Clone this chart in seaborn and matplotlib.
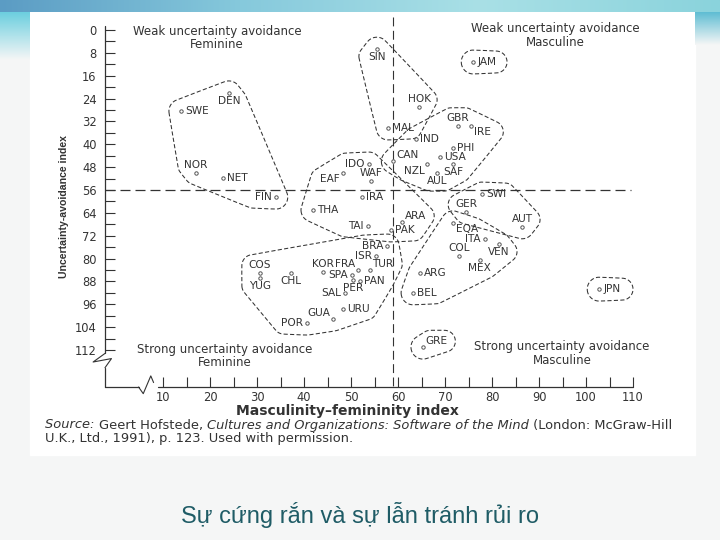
import numpy as np
import pandas as pd
import seaborn as sns
import matplotlib.pyplot as plt
from matplotlib.patches import Rectangle
from matplotlib.colors import LinearSegmentedColormap

# values
countries = ['SIN', 'JAM', 'DEN', 'SWE', 'HOK', 'GBR', 'IRE', 'MAL', 'IND', 'PHI',
             'USA', 'CAN', 'IDO', 'NZL', 'SAF', 'NOR', 'AUL', 'EAF', 'WAF', 'NET',
             'FIN', 'IRA', 'SWI', 'THA', 'GER', 'AUT', 'ARA', 'TAI', 'PAK', 'EQA',
             'ITA', 'COL', 'VEN', 'MEX', 'BRA', 'ISR', 'TUR', 'FRA', 'KOR', 'SPA',
             'PAN', 'PER', 'SAL', 'CHL', 'COS', 'YUG', 'ARG', 'BEL', 'JPN', 'URU',
             'GUA', 'POR', 'GRE']
masculinity = [55.5, 76, 24, 13.8, 64.5, 72.8, 75.5, 57.9, 63.8, 71.7,
               69, 59, 53.8, 66.2, 71.7, 17, 68.3, 48.3, 54.3, 22.8,
               34, 52.3, 77.9, 41.9, 74.5, 86.4, 60.8, 53.6, 58.5, 71.7,
               78.5, 73, 81.5, 77.4, 57.7, 55.3, 54, 51.5, 44, 50.2,
               51.9, 50.5, 48.7, 37.2, 30.6, 30.6, 64.7, 63.2, 102.8, 48.3,
               46.2, 40.6, 65.3]
uncertainty = [6.7, 11.2, 22, 28.4, 27, 33.6, 33.6, 34.3, 38, 41.3,
               44.6, 46, 46.9, 47, 46.9, 50, 50, 50, 52.9, 51.8,
               58.5, 58.4, 57.4, 63, 63.7, 68.9, 67.2, 68.6, 70, 67.5,
               73.2, 79, 75, 80.5, 75.6, 79.1, 84, 84, 84.7, 85.7,
               87.9, 87.5, 92, 85, 85, 86.9, 85, 92, 90.7, 97.7,
               101.2, 102.6, 111]

groups = [
    ['SWE', 'DEN', 'NOR', 'NET', 'FIN'],
    ['SIN', 'HOK', 'MAL'],
    ['JAM'],
    ['GBR', 'IRE', 'IND', 'PHI', 'USA', 'CAN', 'NZL', 'SAF', 'AUL'],
    ['IDO', 'WAF', 'EAF', 'IRA', 'THA', 'TAI', 'ARA', 'PAK'],
    ['SWI', 'GER', 'AUT'],
    ['EQA', 'ITA', 'COL', 'VEN', 'MEX', 'ARG', 'BEL'],
    ['BRA', 'ISR', 'TUR', 'FRA', 'KOR', 'SPA', 'PAN', 'PER', 'SAL', 'CHL',
     'COS', 'YUG', 'GUA', 'URU', 'POR'],
    ['JPN'],
    ['GRE'],
]

# where each country code sits relative to its dot
label_side = {
    'SIN': 'b', 'JAM': 'r', 'DEN': 'b', 'SWE': 'r', 'HOK': 'a', 'GBR': 'a',
    'IRE': 'br', 'MAL': 'r', 'IND': 'r', 'PHI': 'r', 'USA': 'r', 'CAN': 'ar',
    'IDO': 'l', 'NZL': 'bl', 'SAF': 'b', 'NOR': 'a', 'AUL': 'b', 'EAF': 'bl',
    'WAF': 'a', 'NET': 'r', 'FIN': 'l', 'IRA': 'r', 'SWI': 'r', 'THA': 'r',
    'GER': 'a', 'AUT': 'a', 'ARA': 'ar', 'TAI': 'l', 'PAK': 'r', 'EQA': 'br',
    'ITA': 'l', 'COL': 'a', 'VEN': 'b', 'MEX': 'b', 'BRA': 'l', 'ISR': 'l',
    'TUR': 'ar', 'FRA': 'al', 'KOR': 'a', 'SPA': 'l', 'PAN': 'r', 'PER': 'b',
    'SAL': 'l', 'CHL': 'b', 'COS': 'a', 'YUG': 'b', 'ARG': 'r', 'BEL': 'r',
    'JPN': 'r', 'URU': 'r', 'GUA': 'al', 'POR': 'l', 'GRE': 'ar',
}
side_style = {
    'r': (3, 0, 'left', 'center'), 'l': (-3, 0, 'right', 'center'),
    'a': (0, 2, 'center', 'bottom'), 'b': (0, -2, 'center', 'top'),
    'ar': (2, 1, 'left', 'bottom'), 'al': (-2, 1, 'right', 'bottom'),
    'br': (2, -1, 'left', 'top'), 'bl': (-2, -1, 'right', 'top'),
}

df = pd.DataFrame({'country': countries, 'mas': masculinity, 'uai': uncertainty})

sns.set_theme(style='white')
plt.rcParams['font.family'] = ['DejaVu Sans']
ink = '#333333'

fig = plt.figure(figsize=(7.2, 5.4), dpi=100, facecolor='#f5f6f6')
W, H = 720, 540

# scanned page area and slide decorations
fig.patches.append(Rectangle((30 / W, 1 - 455 / H), 665 / W, 443 / H,
                             transform=fig.transFigure, color='white', zorder=-5))
band = fig.add_axes([0, 1 - 12 / H, 1, 12 / H])
band.imshow(np.linspace(0, 1, 256)[None, :], aspect='auto',
            cmap=LinearSegmentedColormap.from_list('b', ['#5b9cc4', '#86c9dc', '#a9e0e6', '#8ad3dc']))
band.axis('off')
strip = fig.add_axes([0, 1 - 60 / H, 30 / W, 48 / H])
strip.imshow(np.linspace(0, 1, 64)[:, None], aspect='auto',
             cmap=LinearSegmentedColormap.from_list('s', ['#6ccfdf', '#f5f6f6']))
strip.axis('off')
rstrip = fig.add_axes([695 / W, 1 - 45 / H, 25 / W, 33 / H])
rstrip.imshow(np.linspace(0, 1, 64)[:, None], aspect='auto',
              cmap=LinearSegmentedColormap.from_list('r', ['#5fbdd3', '#f5f6f6']))
rstrip.axis('off')

ax = fig.add_axes([105 / W, 1 - 387 / H, 540 / W, 370 / H])
ax.set_zorder(2)
ax.set_facecolor('none')
ax.set_xlim(-2.34, 112.55)
ax.set_ylim(124.95, -4.55)
for s in ax.spines.values():
    s.set_visible(False)

sns.scatterplot(data=df, x='mas', y='uai', ax=ax, s=6, color='white',
                edgecolor='#555555', linewidth=0.7, zorder=3, legend=False)
ax.set_xlabel('')
ax.set_ylabel('')

# axis lines with break marks
yt = ax.get_yaxis_transform()
ax.plot([0, 0], [-1.5, 113.2], color=ink, lw=0.9, transform=yt, clip_on=False)
ax.plot([0, -0.022, 0.012, 0], [113.2, 116.2, 115.0, 118.2], color=ink, lw=0.8,
        transform=yt, clip_on=False)
ax.plot([0, 0], [118.2, 124.95], color=ink, lw=0.9, transform=yt, clip_on=False)
xt = ax.get_xaxis_transform()
ax.plot([-2.34, 4.8], [0, 0], color=ink, lw=0.9, transform=xt, clip_on=False)
ax.plot([4.8, 5.8, 7.4, 8.0], [0, -0.018, 0.03, 0.012], color=ink, lw=0.8,
        transform=xt, clip_on=False)
ax.plot([9, 110], [0, 0], color=ink, lw=0.9, transform=xt, clip_on=False)

# quadrant divisions
ax.axhline(56, xmin=0, xmax=(109.5 + 2.34) / 114.89, color=ink, lw=0.9,
           dashes=(8, 4), zorder=1)
ax.plot([59, 59], [-4.5, 124.95], color=ink, lw=0.8, dashes=(8, 4), zorder=1)

ax.set_yticks(np.arange(0, 113, 8))
ax.set_yticks(np.arange(4, 113, 8), minor=True)
ax.set_xticks(np.arange(10, 111, 10))
ax.set_xticks(np.arange(15, 110, 10), minor=True)
ax.tick_params(axis='both', which='both', direction='in', length=7, width=0.8,
               color=ink, labelsize=8.3, labelcolor=ink)
ax.tick_params(axis='y', which='both', left=True, pad=6)
ax.tick_params(axis='x', which='both', bottom=True, pad=3)

# smooth dashed outlines around each cluster
sx, sy, pt = 4.7, 2.857, 100 / 72


def hull(p):
    p = sorted(set(map(tuple, np.round(p, 3))))
    def half(seq):
        out = []
        for q in seq:
            while len(out) >= 2 and ((out[-1][0] - out[-2][0]) * (q[1] - out[-2][1]) -
                                     (out[-1][1] - out[-2][1]) * (q[0] - out[-2][0])) <= 0:
                out.pop()
            out.append(q)
        return out
    lo, up = half(p), half(p[::-1])
    return np.array(lo[:-1] + up[:-1])


def chaikin(p, n=5):
    for _ in range(n):
        q = np.roll(p, -1, axis=0)
        p = np.stack([0.75 * p + 0.25 * q, 0.25 * p + 0.75 * q], axis=1).reshape(-1, 2)
    return p


ang = np.linspace(0, 2 * np.pi, 32, endpoint=False)
for g in groups:
    pts = []
    for c in g:
        row = df[df.country == c].iloc[0]
        u, v = row.mas * sx, -row.uai * sy
        dx, dy, ha, va = side_style[label_side[c]]
        hw, hh = len(c) * 3.9, 4.5
        cu = u + dx * pt + {'left': hw, 'right': -hw, 'center': 0}[ha]
        cv = v + dy * pt + {'bottom': hh, 'top': -hh, 'center': 0}[va]
        for (a, b, r) in [(u, v, 12), (cu - hw * 0.6, cv, 11), (cu + hw * 0.6, cv, 11)]:
            pts += list(zip(a + r * np.cos(ang), b + r * np.sin(ang)))
    h = chaikin(hull(np.array(pts)))
    h = np.vstack([h, h[:1]])
    ax.plot(h[:, 0] / sx, -h[:, 1] / sy, color=ink, lw=0.75, dashes=(4, 2.2),
            zorder=2, clip_on=False)

for c, x, y in zip(countries, masculinity, uncertainty):
    dx, dy, ha, va = side_style[label_side[c]]
    ax.annotate(c, (x, y), xytext=(dx, dy), textcoords='offset points',
                ha=ha, va=va, fontsize=7.6, color=ink, zorder=4)

quad = dict(ha='center', va='center', fontsize=8.5, color=ink, linespacing=1.1)
ax.text(21.5, 2.8, 'Weak uncertainty avoidance\nFeminine', **quad)
ax.text(93.4, 1.9, 'Weak uncertainty avoidance\nMasculine', **quad)
ax.text(23.2, 114.1, 'Strong uncertainty avoidance\nFeminine', **quad)
ax.text(94.9, 113.1, 'Strong uncertainty avoidance\nMasculine', **quad)

fig.text(347 / W, 1 - 411 / H, 'Masculinity\u2013femininity index', ha='center',
         va='center', fontsize=10, fontweight='bold', color=ink)
fig.text(64 / W, 1 - 207 / H, 'Uncertainty-avoidance index', rotation=90,
         ha='center', va='center', fontsize=7.6, fontweight='bold', color=ink,
         family=['Liberation Sans Narrow', 'Liberation Sans', 'DejaVu Sans'])

# source note, mixing upright and italic runs
renderer = fig.canvas.get_renderer()


def run_line(x, y, parts):
    for txt, style in parts:
        t = fig.text(x, y, txt, fontstyle=style, fontsize=9.4, color=ink,
                     ha='left', va='center')
        x += t.get_window_extent(renderer=renderer).width / fig.bbox.width


run_line(45 / W, 1 - 425 / H, [('Source: ', 'italic'), ('Geert Hofstede, ', 'normal'),
                               ('Cultures and Organizations: Software of the Mind', 'italic'),
                               (' (London: McGraw-Hill', 'normal')])
run_line(45 / W, 1 - 438.5 / H, [('U.K., Ltd., 1991), p. 123. Used with permission.', 'normal')])

fig.text(0.5, 1 - 515 / H, 'Sự cứng rắn và sự lẫn tránh rủi ro', ha='center',
         va='center', fontsize=17, color='#1f5c66',
         family=['Liberation Sans', 'DejaVu Sans'])

fig.savefig('out.png', dpi=100, facecolor=fig.get_facecolor())
